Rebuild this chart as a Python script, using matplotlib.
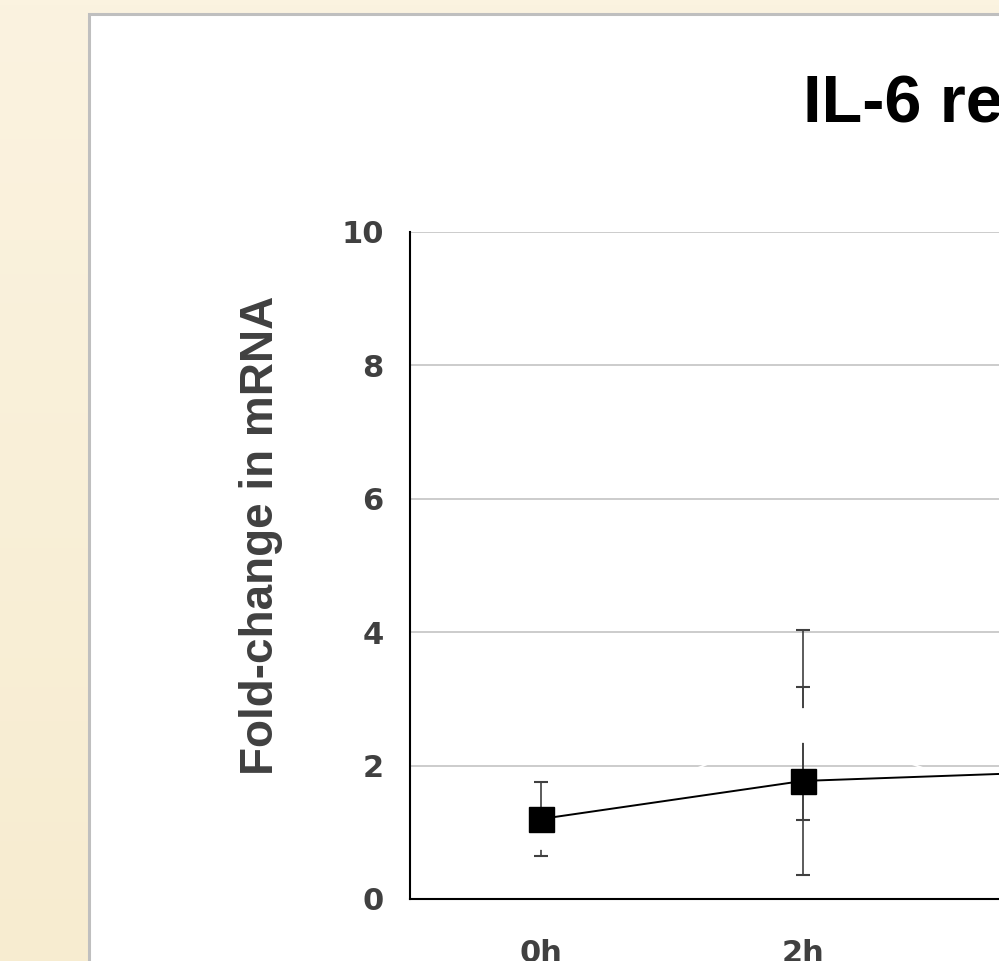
import matplotlib
matplotlib.use("Agg")
import matplotlib.pyplot as plt
import numpy as np
from matplotlib.patches import Rectangle

# Datos
categorias = ["0h", "2h", "4h"]
serie_negra = [1.20, 1.77, 1.91]
err_negra = [0.55, 1.41, 0.0]
serie_blanca = [1.00, 2.61, 1.20]
err_blanca = [0.0, 1.43, 0.0]

W, H = 999, 961
gris_texto = "#404040"
plt.rcParams['font.family'] = ['Liberation Sans', 'DejaVu Sans']

fig = plt.figure(figsize=(W / 100, H / 100), dpi=100)

# Fondo de la diapositiva (degradado crema) y panel blanco
fondo = fig.add_axes([0, 0, 1, 1], zorder=0)
fondo.set_xlim(0, W)
fondo.set_ylim(H, 0)
fondo.axis('off')
c_arriba = np.array([251, 243, 224]) / 255
c_abajo = np.array([247, 236, 208]) / 255
t = np.linspace(0, 1, 200)[:, None, None]
grad = c_arriba * (1 - t) + c_abajo * t
grad = np.repeat(grad, 2, axis=1)
fondo.imshow(grad, extent=(0, W, H, 0), aspect='auto')
fondo.add_patch(Rectangle((88.5, 14), 1200, 1200, facecolor='white',
                          edgecolor='#bfbfbf', linewidth=2.2))


def px(x, y):
    return x / W, 1 - y / H


# Eje del grafico (se extiende mas alla del borde derecho)
izq, abajo = px(410, 899)
ancho = 786
ax = fig.add_axes([izq, abajo, ancho / W, (899 - 232) / H], zorder=1)
ax.patch.set_alpha(0)
x = np.arange(len(categorias))

ax.errorbar(x, serie_negra, yerr=err_negra, fmt='none', ecolor=gris_texto,
            elinewidth=1.2, capsize=4.7, capthick=1.5, zorder=2)
ax.errorbar(x, serie_blanca, yerr=err_blanca, fmt='none', ecolor=gris_texto,
            elinewidth=1.2, capsize=4.7, capthick=1.5, zorder=2)
ax.plot(x, serie_blanca, color='white', linewidth=1.3, marker='o',
        markersize=24, markerfacecolor='white', markeredgecolor='white', zorder=3)
ax.plot(x, serie_negra, color='black', linewidth=1.4, marker='s',
        markersize=18, markerfacecolor='black', markeredgecolor='black', zorder=4)

ax.set_xlim(-0.5, len(categorias) - 0.5)
ax.set_ylim(0, 10)
ax.set_yticks(range(0, 11, 2))
ax.set_xticks(x)
ax.set_xticklabels(categorias)
ax.yaxis.grid(True, color='#bfbfbf', linewidth=1.1, zorder=0)
ax.set_axisbelow(True)
for lado in ['top', 'right']:
    ax.spines[lado].set_visible(False)
for lado in ['left', 'bottom']:
    ax.spines[lado].set_linewidth(1.5)
    ax.spines[lado].set_color('black')
ax.tick_params(length=0, labelcolor=gris_texto)
ax.tick_params(axis='y', pad=19)
ax.tick_params(axis='x', pad=29)
for lab in ax.get_xticklabels() + ax.get_yticklabels():
    lab.set_fontweight('bold')
    lab.set_fontfamily('DejaVu Sans')
    lab.set_fontsize(22)

ax.set_ylabel('Fold-change in mRNA', fontsize=33, fontweight='bold',
              color=gris_texto)
ax.yaxis.set_label_coords((283 - 410) / ancho, (899 - 535) / (899 - 232))

# Titulo (cortado por el borde derecho de la imagen)
tx, ty = px(803, 122)
fig.text(tx, ty, 'IL-6 response', fontsize=48, fontweight='bold',
         color='black', ha='left', va='baseline')

fig.savefig('out.png', dpi=100)
